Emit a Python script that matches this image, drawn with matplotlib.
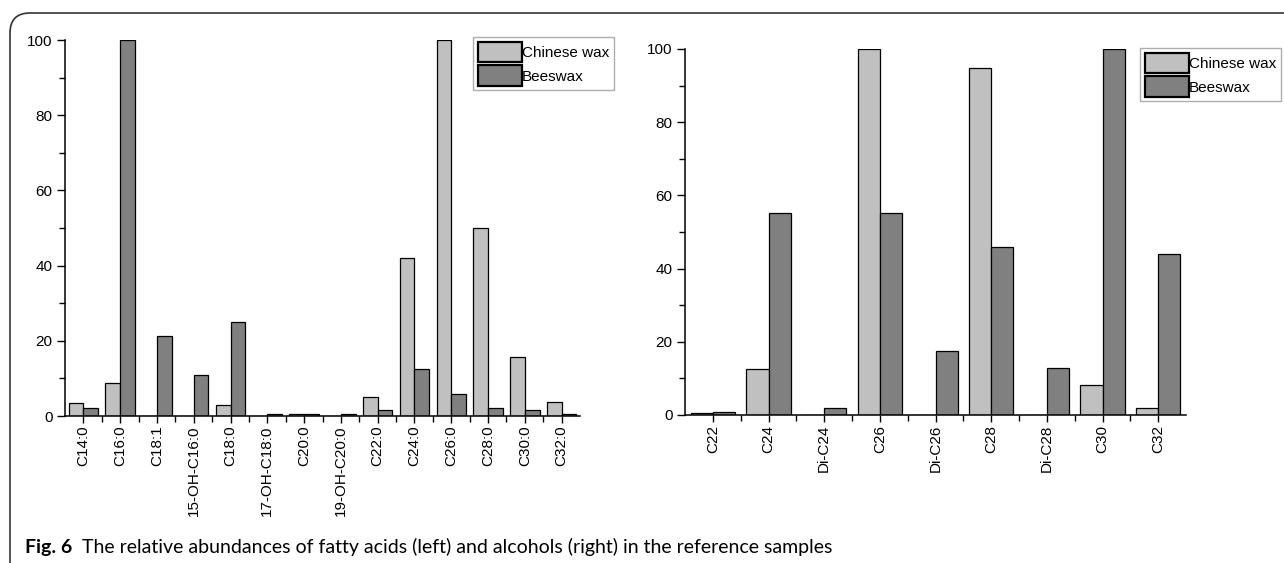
import matplotlib
matplotlib.use("Agg")
import matplotlib.pyplot as plt
import numpy as np
from matplotlib.path import Path
from matplotlib.patches import PathPatch
from matplotlib.ticker import MultipleLocator, FixedLocator

plt.rcParams['font.family'] = ['Liberation Sans', 'DejaVu Sans']

# ---- data ----
acid_labels = ["C14:0", "C16:0", "C18:1", "15-OH-C16:0", "C18:0", "17-OH-C18:0", "C20:0",
               "19-OH-C20:0", "C22:0", "C24:0", "C26:0", "C28:0", "C30:0", "C32:0"]
acid_chinese = [3.5, 8.9, 0, 0, 3.0, 0, 0.6, 0, 5.0, 41.9, 100, 49.9, 15.8, 3.8]
acid_bees = [2.0, 100, 21.4, 11.0, 25.0, 0.6, 0.6, 0.6, 1.5, 12.4, 5.9, 2.0, 1.5, 0.4]

alc_labels = ["C22", "C24", "Di-C24", "C26", "Di-C26", "C28", "Di-C28", "C30", "C32"]
alc_chinese = [0.6, 12.5, 0, 100, 0, 94.7, 0, 8.2, 1.8]
alc_bees = [0.9, 55.3, 2.0, 55.3, 17.4, 46.0, 12.8, 100, 44.1]

series_names = ["Chinese wax", "Beeswax"]
yticks = [0, 20, 40, 60, 80, 100]

c_light = "#c0c0c0"
c_dark = "#808080"

fig = plt.figure(figsize=(12.84, 5.63), dpi=100)

def panel(rect, labels, cw, bw, legend_anchor):
    ax = fig.add_axes(rect)
    x = np.arange(len(labels))
    w = 0.4
    b1 = ax.bar(x - w / 2, cw, width=w, color=c_light, edgecolor="black", linewidth=0.9)
    b2 = ax.bar(x + w / 2, bw, width=w, color=c_dark, edgecolor="black", linewidth=0.9)
    ax.set_xlim(-0.5, len(labels) - 0.5)
    ax.set_ylim(0, 100)
    ax.set_yticks(yticks)
    ax.yaxis.set_minor_locator(MultipleLocator(10))
    ax.set_xticks(x)
    ax.set_xticklabels(labels, rotation=90, fontsize=11)
    ax.xaxis.set_minor_locator(FixedLocator(x[:-1] + 0.5))
    ax.tick_params(axis="y", labelsize=11, direction="out", length=6, width=1, pad=3)
    ax.tick_params(axis="x", direction="out", length=5, width=1, pad=2)
    ax.tick_params(which="minor", direction="out", length=4, width=1)
    for s in ["top", "right"]:
        ax.spines[s].set_visible(False)
    for s in ["left", "bottom"]:
        ax.spines[s].set_linewidth(1.1)
    leg = ax.legend([b1, b2], series_names, loc="upper left", bbox_to_anchor=legend_anchor,
                    bbox_transform=fig.transFigure, fontsize=11, frameon=True,
                    fancybox=False, handlelength=2.9, handleheight=1.7, handletextpad=0.0,
                    labelspacing=0.2, borderpad=0.3, borderaxespad=0)
    leg.get_frame().set_edgecolor("#999999")
    leg.get_frame().set_linewidth(1.0)
    for h in leg.legend_handles:
        h.set_linewidth(1.6)
    return ax

panel([65 / 1284, 1 - 416 / 563, 515 / 1284, 376 / 563], acid_labels, acid_chinese, acid_bees,
      (473 / 1284, 1 - 37 / 563))
panel([685 / 1284, 1 - 415 / 563, 501 / 1284, 366 / 563], alc_labels, alc_chinese, alc_bees,
      (1140 / 1284, 1 - 48 / 563))

# rounded frame (left + top)
W, H = 1284, 563
r = 20
x0, y0 = 10, 13
verts = [(x0, H), (x0, y0 + r), (x0, y0), (x0 + r, y0), (W, y0)]
codes = [Path.MOVETO, Path.LINETO, Path.CURVE3, Path.CURVE3, Path.LINETO]
verts_fig = [(vx / W, 1 - vy / H) for vx, vy in verts]
fig.patches.append(PathPatch(Path(verts_fig, codes), transform=fig.transFigure,
                             fill=False, edgecolor="#333333", linewidth=1.2))

# caption
fig.text(25 / W, 1 - 547 / H, "Fig. 6", fontsize=14, fontweight="bold",
         family=["Lato", "DejaVu Sans"], va="center", ha="left")
fig.text(82 / W, 1 - 547 / H,
         "The relative abundances of fatty acids (left) and alcohols (right) in the reference samples",
         fontsize=14, family=["Lato", "DejaVu Sans"], va="center", ha="left")

fig.savefig("out.png", dpi=100)
